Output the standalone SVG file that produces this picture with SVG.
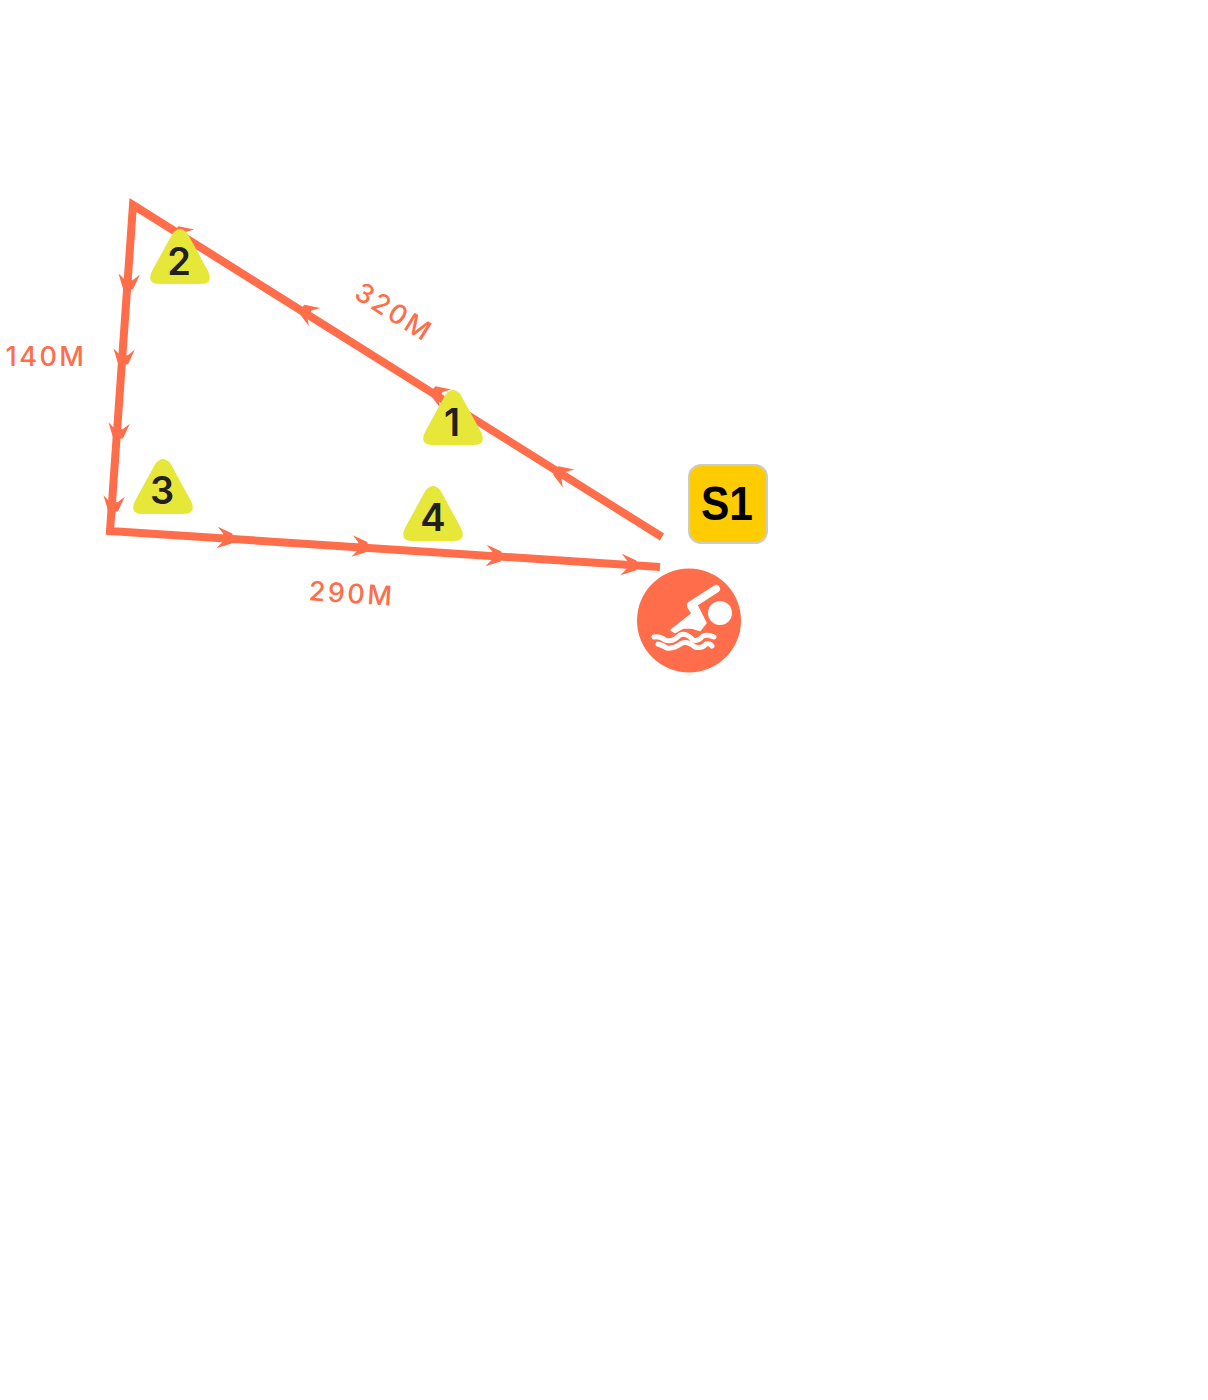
<svg xmlns="http://www.w3.org/2000/svg" xmlns:xlink="http://www.w3.org/1999/xlink" width="1208" height="1400" viewBox="0 0 1208 1400">
<style>
.route{fill:none;stroke:#ff6d4a;stroke-width:8;stroke-linejoin:miter}
.head{fill:#ff6d4a}
.dist{font-family:"Inter","Liberation Sans",sans-serif;font-size:27px;font-weight:500;fill:#ff6d4a;letter-spacing:2.500px;text-anchor:middle}
.tri{fill:#e6e739}
.num{font-family:"Inter","Liberation Sans",sans-serif;font-size:38px;font-weight:600;fill:#231f20;text-anchor:middle}
.wave{fill:none;stroke:#fff;stroke-width:5;stroke-linecap:round;stroke-linejoin:round}
</style>
<defs>
<path id="ah" d="M0 0 L-1 -5 L-16 -10.700 L-10 -4 L-10 4 L-16 10.700 L-1 5 Z"/>
<path id="tr" d="M-7.500 4.500 Q0 -4.500 7.500 4.500 L28 42 Q34 55 20 55 L-20 55 Q-34 55 -28 42 Z"/>
</defs>
<rect width="1208" height="1400" fill="#fff"/>
<g id="connectors">
<polyline class="route" points="662,537 133,205 110,531 660,567"/>
<g class="head">
<use xlink:href="#ah" href="#ah" transform="translate(555,470) rotate(212.1)"/>
<use xlink:href="#ah" href="#ah" transform="translate(432,390) rotate(212.1)"/>
<use xlink:href="#ah" href="#ah" transform="translate(301,308.500) rotate(212.1)"/>
<use xlink:href="#ah" href="#ah" transform="translate(175,230) rotate(212.1)"/>
<use xlink:href="#ah" href="#ah" transform="translate(128,290) rotate(94)"/>
<use xlink:href="#ah" href="#ah" transform="translate(123,365) rotate(94)"/>
<use xlink:href="#ah" href="#ah" transform="translate(118,439) rotate(94)"/>
<use xlink:href="#ah" href="#ah" transform="translate(113,512) rotate(94)"/>
<use xlink:href="#ah" href="#ah" transform="translate(233,538.500) rotate(3.700)"/>
<use xlink:href="#ah" href="#ah" transform="translate(368,547) rotate(3.700)"/>
<use xlink:href="#ah" href="#ah" transform="translate(502,556.500) rotate(3.700)"/>
<use xlink:href="#ah" href="#ah" transform="translate(637,565.500) rotate(3.700)"/>
</g>
</g>
<g id="label-320"><text class="dist" transform="translate(389,320) rotate(32)">320M</text></g>
<g id="label-140"><text class="dist" x="46" y="366">140M</text></g>
<g id="label-290"><text class="dist" transform="translate(351,603) rotate(3.700)">290M</text></g>
<g id="marker-1"><use xlink:href="#tr" href="#tr" class="tri" transform="translate(453,390)"/><text class="num" x="452" y="436">1</text></g>
<g id="marker-2"><use xlink:href="#tr" href="#tr" class="tri" transform="translate(180,229)"/><text class="num" x="179" y="275">2</text></g>
<g id="marker-3"><use xlink:href="#tr" href="#tr" class="tri" transform="translate(163,459)"/><text class="num" x="162" y="504">3</text></g>
<g id="marker-4"><use xlink:href="#tr" href="#tr" class="tri" transform="translate(433,486)"/><text class="num" x="433" y="531">4</text></g>
<g id="badge-s1">
<rect x="689" y="465" width="78" height="78" rx="12" fill="#ffcc00" stroke="#cccccc" stroke-width="2"/>
<text x="727" y="520" font-family="'Liberation Sans',Arial,sans-serif" font-size="49" font-weight="700" fill="#000" text-anchor="middle" textLength="52" lengthAdjust="spacingAndGlyphs">S1</text>
</g>
<g id="swim-icon">
<circle cx="689" cy="620.500" r="52" fill="#ff6d4a"/>
<circle cx="720" cy="613" r="12" fill="#fff"/>
<path d="M691 605 L716 589" fill="none" stroke="#fff" stroke-width="8" stroke-linecap="round"/>
<path d="M671 630 L692 613.500 L688 607 L696 603 L706 623 L700 630.500 L692 628 L683 628 L675 632.500 Z" fill="#fff" stroke="#fff" stroke-width="1.500" stroke-linejoin="round"/>
<path class="wave" d="M654 637 Q660 636 665 640 Q672 643 680 635 Q686 632 693 640 Q698 642 703 636 Q708 634 714 637"/>
<path class="wave" d="M658 644 Q662 645 667 648 Q674 649 682 643 Q688 641 695 647 Q702 649 706 644 Q710 643 712 646"/>
</g>
</svg>
